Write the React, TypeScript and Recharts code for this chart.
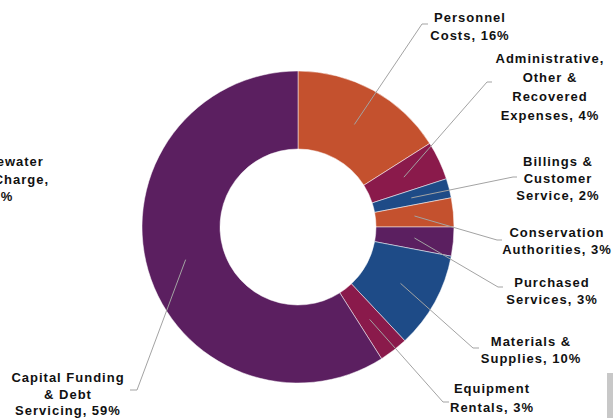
import { PieChart, Pie, Cell } from 'recharts';

const CATEGORIES = [
    'Personnel Costs',
    'Administrative, Other & Recovered Expenses',
    'Billings & Customer Service',
    'Conservation Authorities',
    'Purchased Services',
    'Materials & Supplies',
    'Equipment Rentals',
    'Capital Funding & Debt Servicing',
    'Wastewater Rate Charge',
];

const SHARES = [16, 4, 2, 3, 3, 10, 3, 59, 0];

const LABEL_LINES = [
    ['Personnel', 'Costs, 16%'],
    ['Administrative,', 'Other &', 'Recovered', 'Expenses, 4%'],
    ['Billings &', 'Customer', 'Service, 2%'],
    ['Conservation', 'Authorities, 3%'],
    ['Purchased', 'Services, 3%'],
    ['Materials &', 'Supplies, 10%'],
    ['Equipment', 'Rentals, 3%'],
    ['Capital Funding', '& Debt', 'Servicing, 59%'],
    ['Wastewater', 'Rate Charge,', '0%'],
];

const COLORS = ['#C4512E', '#8A1A4B', '#1E4B87', '#C4512E', '#5B1F60', '#1E4B87', '#8A1A4B', '#5B1F60', '#5B1F60'];

// label placement: elbow point, hook end, text centre x, first baseline, line step
const LABEL_LAYOUT = [
    { elbow: [422, 24], hook: [428, 24], tx: 470, ty: 22, step: 18 },
    { elbow: [487, 82], hook: [492, 82], tx: 550, ty: 63, step: 19 },
    { elbow: [513, 177], hook: [517, 177], tx: 558, ty: 166, step: 17 },
    { elbow: [497, 240], hook: [502, 240], tx: 557, ty: 237, step: 17 },
    { elbow: [498, 287], hook: [503, 287], tx: 552, ty: 287, step: 17 },
    { elbow: [473, 348], hook: [479, 348], tx: 531, ty: 346, step: 17 },
    { elbow: [443, 402], hook: [449, 402], tx: 492, ty: 393, step: 19 },
    { elbow: [137, 390], hook: [130, 390], tx: 68, ty: 382, step: 16.5 },
    { elbow: null, hook: null, tx: 3, ty: 166, step: 17.5 },
];

const data = CATEGORIES.map((name, i) => ({ name, value: SHARES[i] }));

const RAD = Math.PI / 180;

const renderLabel = (props: any) => {
    const { cx, cy, midAngle, innerRadius, outerRadius, index } = props;
    const lay = LABEL_LAYOUT[index];
    const lines = LABEL_LINES[index];
    const r = (innerRadius + outerRadius) / 2;
    const sx = cx + r * Math.cos(-midAngle * RAD);
    const sy = cy + r * Math.sin(-midAngle * RAD);
    return (
        <g key={`lbl-${index}`}>
            {lay.elbow && (
                <polyline
                    points={`${sx},${sy} ${lay.elbow[0]},${lay.elbow[1]} ${lay.hook[0]},${lay.hook[1]}`}
                    fill="none"
                    stroke="#A3A3A3"
                    strokeWidth={1}
                />
            )}
            <text
                x={lay.tx}
                y={lay.ty}
                textAnchor="middle"
                fill="#111"
                fontSize={13}
                fontWeight="bold"
                letterSpacing={1}
                fontFamily="'Liberation Sans', Arial, sans-serif"
            >
                {lines.map((l, k) => (
                    <tspan key={k} x={lay.tx} y={lay.ty + k * lay.step}>
                        {l}
                    </tspan>
                ))}
            </text>
        </g>
    );
};

export default function App() {
    return (
        <div style={{ position: 'absolute', left: 0, top: 0, width: 613, height: 418, background: '#fff' }}>
            <PieChart width={613} height={418} margin={{ top: 0, right: 0, bottom: 0, left: 0 }}>
                <Pie
                    data={data}
                    dataKey="value"
                    cx={298}
                    cy={227}
                    innerRadius={78}
                    outerRadius={156}
                    startAngle={90}
                    endAngle={-270}
                    stroke="#ffffff"
                    strokeWidth={0.5}
                    label={renderLabel}
                    labelLine={false}
                    isAnimationActive={false}
                >
                    {data.map((entry, index) => (
                        <Cell key={`cell-${index}`} fill={COLORS[index]} />
                    ))}
                </Pie>
            </PieChart>
            <div style={{ position: 'absolute', left: 607, top: 373, width: 6, height: 45, background: '#C8C8C8' }} />
        </div>
    );
}
